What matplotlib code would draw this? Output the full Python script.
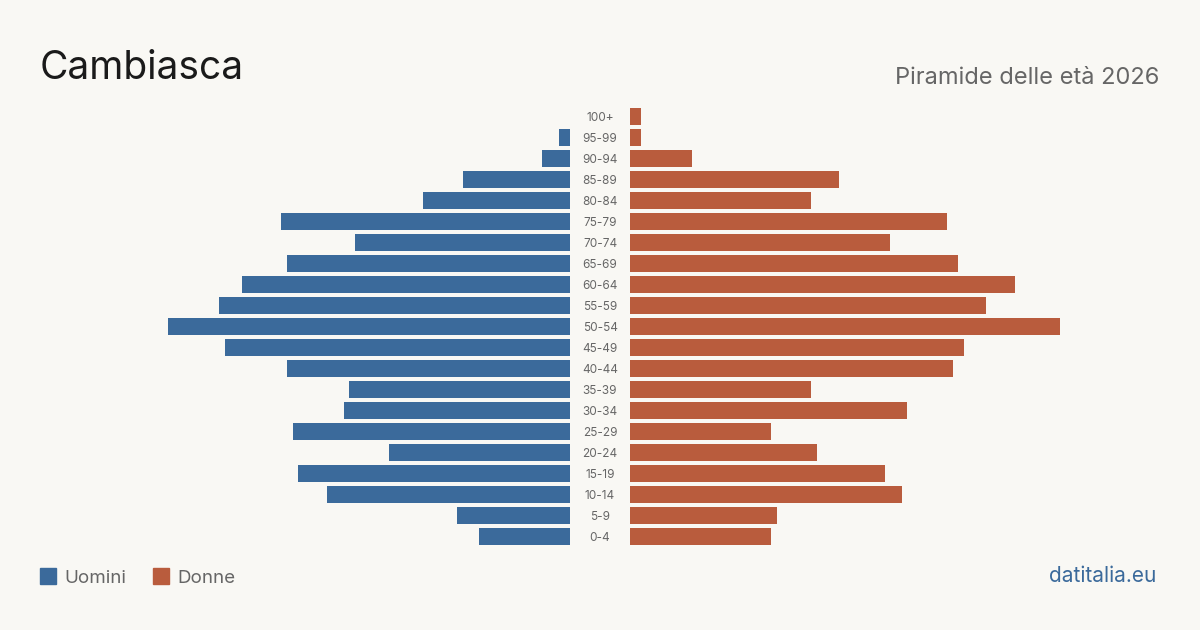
import numpy as np
import matplotlib.pyplot as plt

# Age classes, bottom to top
age_groups = ["0-4", "5-9", "10-14", "15-19", "20-24", "25-29", "30-34", "35-39",
              "40-44", "45-49", "50-54", "55-59", "60-64", "65-69", "70-74",
              "75-79", "80-84", "85-89", "90-94", "95-99", "100+"]
uomini = [16, 20, 43, 48, 32, 49, 40, 39, 50, 61, 71, 62, 58, 50, 38, 51, 26, 19, 5, 2, 0]
donne = [25, 26, 48, 45, 33, 25, 49, 32, 57, 59, 76, 63, 68, 58, 46, 56, 32, 37, 11, 2, 2]

bg = "#f9f8f4"
blue = "#3b6a9b"
red = "#b95c3d"
grey = "#666666"

W, H = 1200, 630
fig = plt.figure(figsize=(W / 100, H / 100), dpi=100, facecolor=bg)
plt.rcParams['font.family'] = ['Inter', 'DejaVu Sans']

# axes geometry in pixels
px_per_unit = 430 / 76
ax_w = 530
top, row_h = 105.8, 21
ax_h = row_h * len(age_groups)
xmax = ax_w / px_per_unit

def fig_box(x0, y0, w, h):
    return [x0 / W, 1 - (y0 + h) / H, w / W, h / H]

def fy(ypx):
    return 1 - ypx / H

ax_l = fig.add_axes(fig_box(570 - ax_w, top, ax_w, ax_h))
ax_r = fig.add_axes(fig_box(630, top, ax_w, ax_h))

y = np.arange(len(age_groups))
ax_l.barh(y, uomini, height=0.8, color=blue)
ax_r.barh(y, donne, height=0.8, color=red)
ax_l.set_xlim(xmax, 0)
ax_r.set_xlim(0, xmax)

for ax in (ax_l, ax_r):
    ax.set_ylim(-0.5, len(age_groups) - 0.5)
    ax.set_facecolor("none")
    ax.axis("off")

# age labels in the middle
for i, lab in enumerate(age_groups):
    yc = top + ax_h - (i + 0.5) * row_h
    fig.text(600 / W, fy(yc + 4.3), lab, ha="center", va="baseline",
             fontsize=8.5, color=grey)

fig.text(40 / W, fy(79), "Cambiasca", ha="left", va="baseline",
         fontsize=28, color="#1a1a1a")
fig.text(1159 / W, fy(84.5), "Piramide delle età 2026", ha="right", va="baseline",
         fontsize=17, color=grey)

# legend
for x0, col, lab in [(40, blue, "Uomini"), (153, red, "Donne")]:
    fig.patches.append(plt.Rectangle((x0 / W, fy(584)), 16 / W, 16 / H,
                                     transform=fig.transFigure, color=col))
    fig.text((x0 + 24) / W, fy(583), lab, ha="left", va="baseline",
             fontsize=13.5, color=grey)

fig.text(1156 / W, fy(582.5), "datitalia.eu", ha="right", va="baseline",
         fontsize=15, color=blue)

fig.savefig("out.png", dpi=100, facecolor=bg)
